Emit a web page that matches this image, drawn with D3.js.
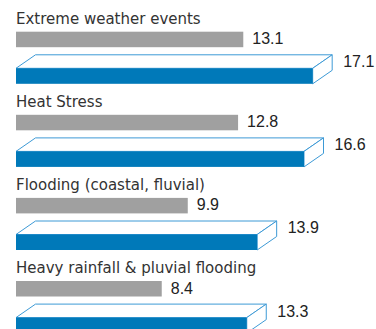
<!DOCTYPE html>
<html>
<head>
<meta charset="utf-8">
<script src="https://cdn.jsdelivr.net/npm/d3@7/dist/d3.min.js"></script>
<style>
  html, body { margin: 0; padding: 0; background: #ffffff; }
  svg { display: block; }
</style>
</head>
<body>
<svg id="chart" width="376" height="329"></svg>
<script>
// Hazard categories, top to bottom
const categories = [
  "Extreme weather events",
  "Heat Stress",
  "Flooding (coastal, fluvial)",
  "Heavy rainfall & pluvial flooding"
];
// Flat grey series
const greyValues = [13.1, 12.8, 9.9, 8.4];
// Blue 3D series
const blueValues = [17.1, 16.6, 13.9, 13.3];

const W = 376, H = 329;
const svg = d3.select("#chart");

const x = d3.scaleLinear().domain([0, 20]).range([16, 363]);
const rowStep = 83.1;
const y = d3.scaleBand()
  .domain(categories)
  .range([10, 10 + rowStep * categories.length])
  .padding(0);

const barH = 15.5;
const greyOff = 21.7;   // grey bar top within a row
const blueOff = 58.3;   // blue bar front top within a row
const depthX = 19.5, depthY = 13.5;

const greyColor = "#a0a0a0";
const blueColor = "#0079b9";
const edgeColor = "#3d9ad6";
const textColor = "#333333";

const rows = svg.selectAll("g.row")
  .data(categories.map((c, i) => ({ cat: c, grey: greyValues[i], blue: blueValues[i] })))
  .join("g")
  .attr("class", "row")
  .attr("transform", d => `translate(0,${y(d.cat)})`);

// Category label
rows.append("text")
  .attr("x", x(0))
  .attr("y", 14)
  .attr("font-family", "DejaVu Sans, sans-serif")
  .attr("font-size", 15)
  .attr("fill", textColor)
  .text(d => d.cat);

// Grey flat bar
rows.append("rect")
  .attr("x", x(0))
  .attr("y", greyOff)
  .attr("width", d => x(d.grey) - x(0))
  .attr("height", barH)
  .attr("fill", greyColor);

rows.append("text")
  .attr("x", d => x(d.grey) + 9)
  .attr("y", greyOff + barH / 2 - 1)
  .attr("dy", "0.36em")
  .attr("font-family", "Liberation Sans, Arial, sans-serif")
  .attr("font-size", 16)
  .attr("fill", "#222")
  .text(d => d3.format(".1f")(d.grey));

// Blue 3D bar: top face, side face, then front face
const yt = blueOff, yb = blueOff + barH;
rows.append("path")
  .attr("d", d => {
    const x0 = x(0), x1 = x(d.blue);
    return `M${x0},${yt}L${x0 + depthX},${yt - depthY}L${x1 + depthX},${yt - depthY}L${x1},${yt}Z`;
  })
  .attr("fill", "#ffffff")
  .attr("stroke", edgeColor)
  .attr("stroke-width", 1)
  .attr("stroke-linejoin", "round");

rows.append("path")
  .attr("d", d => {
    const x1 = x(d.blue);
    return `M${x1},${yt}L${x1 + depthX},${yt - depthY}L${x1 + depthX},${yb - depthY}L${x1},${yb}Z`;
  })
  .attr("fill", "#ffffff")
  .attr("stroke", edgeColor)
  .attr("stroke-width", 1)
  .attr("stroke-linejoin", "round");

rows.append("rect")
  .attr("x", x(0))
  .attr("y", yt)
  .attr("width", d => x(d.blue) - x(0))
  .attr("height", barH)
  .attr("fill", blueColor);

rows.append("text")
  .attr("x", d => x(d.blue) + depthX + 11)
  .attr("y", yt - depthY + barH / 2 - 1)
  .attr("dy", "0.36em")
  .attr("font-family", "Liberation Sans, Arial, sans-serif")
  .attr("font-size", 16)
  .attr("fill", "#222")
  .text(d => d3.format(".1f")(d.blue));
</script>
</body>
</html>
